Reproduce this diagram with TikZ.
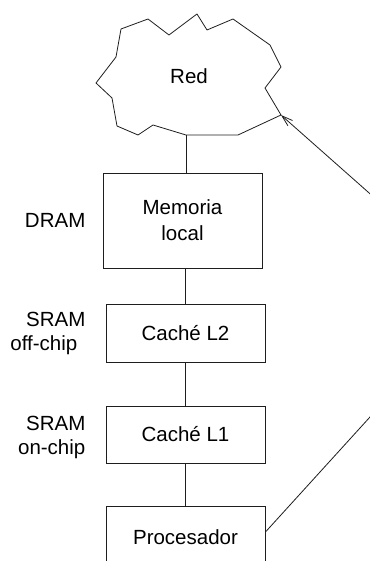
\documentclass[tikz,border=0pt]{standalone}
\usepackage{fontspec}
\setmainfont{Liberation Sans}
\usetikzlibrary{calc,positioning,arrows.meta}
\definecolor{inkgray}{HTML}{1E1E1E}

\tikzset{
  levelbox/.style={draw=inkgray, line width=0.9pt, minimum width=159pt,
    align=center, inner sep=0pt},
  techlabel/.style={align=right, inner sep=0pt},
  wire/.style={draw=inkgray, line width=0.8pt},
}

\begin{document}
\begin{tikzpicture}[x=1pt, y=-1pt, font=\fontsize{20.5}{24}\selectfont]
  \useasboundingbox (0,0) rectangle (369,561);

  % red como nube
  \draw[wire, line join=round] (121,29) -- (148,19) -- (169,35) -- (197,14) -- (207,30)
    -- (233,19) -- (270,45) -- (281,67) -- (265,88) -- (281,115) -- (238,135)
    -- (186,135) -- (153,125) -- (138,135) -- (117,126) -- (112,98) -- (96,83)
    -- (116,57) -- cycle;
  \node (red) at (189,76) {Red};
  \coordinate (redbase) at (186,135);
  \coordinate (redtip) at (281,115);

  \node[levelbox, minimum height=95pt] (mem) at (182.5,220.5) {Memoria\\[2pt]local};
  \node[levelbox, minimum height=58pt] (ltwo) at (185.5,333) {Caché L2};
  \node[levelbox, minimum height=57pt] (lone) at (185.5,434.5) {Caché L1};
  \node[levelbox, minimum height=62pt] (proc) at (185.5,537) {Procesador};

  \node[techlabel, left=17pt of mem] (dram) {DRAM};
  \node[techlabel, left=20pt of ltwo] (offchip) {SRAM\\off-chip\hspace*{8pt}};
  \node[techlabel, left=20pt of lone, yshift=-3pt] (onchip) {SRAM\\on-chip};

  \coordinate (farup) at (400,384);
  \coordinate (fartail) at (400,220.3);

  \draw[wire] (redbase) -- (redbase |- mem.north);
  \draw[wire] (mem.south -| ltwo.north) -- (ltwo.north);
  \draw[wire] (ltwo.south) -- (lone.north);
  \draw[wire] (lone.south) -- (proc.north);
  \draw[wire] ([yshift=5pt]proc.east) -- (farup);
  \draw[wire, -{Straight Barb[length=11pt,width=7pt]}] (fartail) -- (redtip);
\end{tikzpicture}
\end{document}
